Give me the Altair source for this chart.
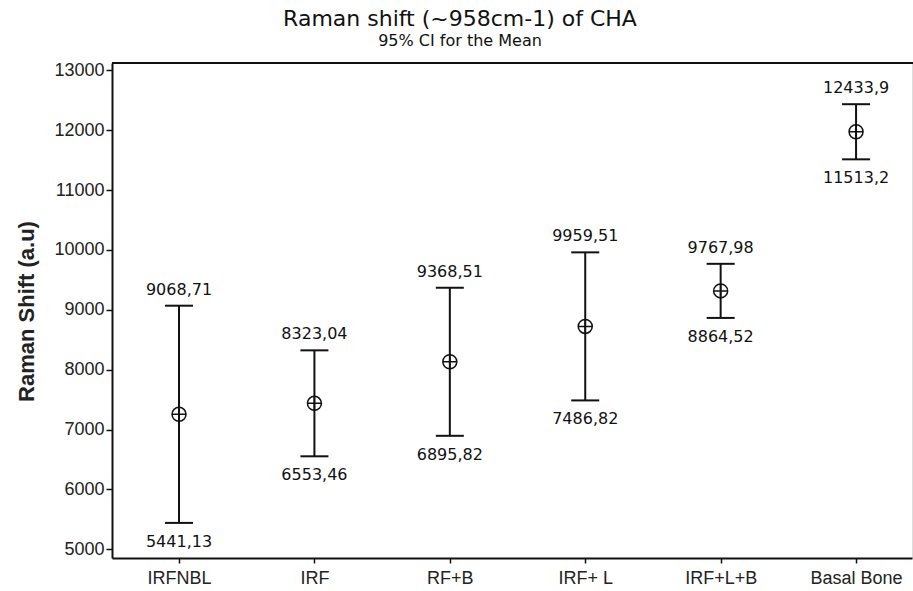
import altair as alt
import pandas as pd

categories = ["IRFNBL", "IRF", "RF+B", "IRF+ L", "IRF+L+B", "Basal Bone"]
upper = [9068.71, 8323.04, 9368.51, 9959.51, 9767.98, 12433.9]
lower = [5441.13, 6553.46, 6895.82, 7486.82, 8864.52, 11513.2]
means = [7255, 7438, 8132, 8723, 9316, 11974]
upper_labels = ["9068,71", "8323,04", "9368,51", "9959,51", "9767,98", "12433,9"]
lower_labels = ["5441,13", "6553,46", "6895,82", "7486,82", "8864,52", "11513,2"]
y_ticks = [5000, 6000, 7000, 8000, 9000, 10000, 11000, 12000, 13000]
y_domain = [4855, 13122]

df = pd.DataFrame({
    "cat": categories, "upper": upper, "lower": lower, "mean": means,
    "ulab": upper_labels, "llab": lower_labels,
})

INK = "#111111"
yscale = alt.Scale(domain=y_domain, nice=False, zero=False)
yaxis = alt.Axis(
    values=y_ticks, format="d", grid=False, title="Raman Shift (a.u)",
    labelFont="Liberation Sans", labelFontSize=18, labelColor="#222222", labelPadding=2,
    tickSize=6, tickWidth=1.5, tickColor=INK, domainColor=INK, domainWidth=2,
    titleFont="Liberation Sans", titleFontSize=22, titleFontWeight="bold", titleColor="#222222",
    titleX=-79, titleY=248, titleBaseline="alphabetic", titleAlign="center", titleAngle=270,
)

def Y(field):
    return alt.Y(f"{field}:Q", scale=yscale, axis=yaxis)

X = alt.X(
    "cat:N", sort=categories, title=None,
    scale=alt.Scale(type="point", padding=0.454, align=0.545),
    axis=alt.Axis(
        labelAngle=0, labelFont="Liberation Sans", labelFontSize=18, labelColor="#222222",
        labelPadding=6, tickSize=5, tickWidth=1.5, tickColor=INK, domainColor=INK, domainWidth=2,
        grid=False,
    ),
)

base = alt.Chart(df).encode(x=X)

rule = base.mark_rule(strokeWidth=2, color=INK).encode(y=Y("lower"), y2="upper:Q")
cap_u = base.mark_tick(size=28, thickness=2, color=INK, orient="horizontal", opacity=1).encode(y=Y("upper"))
cap_l = base.mark_tick(size=28, thickness=2, color=INK, orient="horizontal", opacity=1).encode(y=Y("lower"))
circle = base.mark_point(shape="circle", size=196, filled=False, strokeWidth=1.5,
                         color=INK, opacity=1).encode(y=Y("mean"))
cross = base.mark_point(shape="M-1,0L1,0M0,-1L0,1", size=196, filled=False, strokeWidth=1.5,
                        color=INK, opacity=1).encode(y=Y("mean"))
text_u = base.mark_text(font="DejaVu Sans", fontSize=16, dy=-11, baseline="alphabetic",
                        color=INK).encode(y=Y("upper"), text="ulab:N")
text_l = base.mark_text(font="DejaVu Sans", fontSize=16, dy=24, baseline="alphabetic",
                        color=INK).encode(y=Y("lower"), text="llab:N")

top_df = pd.DataFrame({"top": [y_domain[1]]})
top_line = alt.Chart(top_df).mark_rule(color=INK, strokeWidth=2).encode(
    y=Y("top"), x=alt.value(0), x2=alt.value(801)
)

chart = alt.layer(rule, cap_u, cap_l, circle, cross, text_u, text_l, top_line).properties(
    width=800, height=495,
    autosize=alt.AutoSizeParams(type="none"),
    padding={"left": 112, "top": 63, "right": 1, "bottom": 33},
    title=alt.TitleParams(
        text="Raman shift (~958cm-1) of CHA",
        subtitle="95% CI for the Mean",
        anchor="middle", dx=-52, offset=11,
        font="DejaVu Sans", fontSize=22, fontWeight="normal", color="#111111",
        subtitleFont="DejaVu Sans", subtitleFontSize=16, subtitleColor="#111111",
        subtitlePadding=2,
    ),
).configure_view(stroke=None).configure(background="white")

chart.save("out.html", embed_options={"renderer": "svg", "actions": False})
